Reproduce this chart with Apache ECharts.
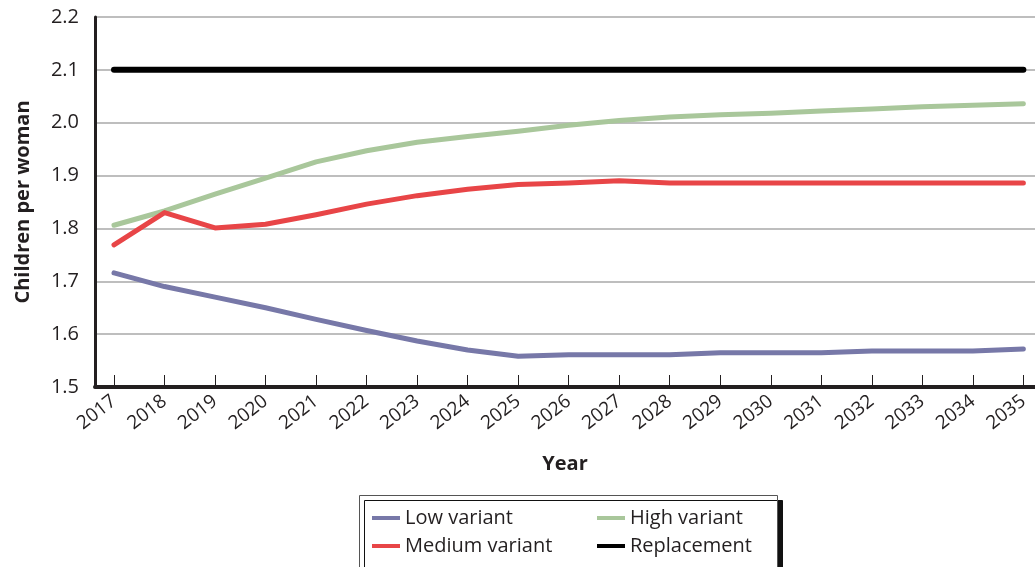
<!DOCTYPE html>
<html>
<head>
<meta charset="utf-8">
<script src="https://cdn.jsdelivr.net/npm/echarts@6/dist/echarts.min.js"></script>
<style>
  html, body { margin: 0; padding: 0; background: #fff; }
  #chart { width: 1035px; height: 567px; }
</style>
</head>
<body>
<div id="chart"></div>
<script>
const years = [2017, 2018, 2019, 2020, 2021, 2022, 2023, 2024, 2025, 2026,
  2027, 2028, 2029, 2030, 2031, 2032, 2033, 2034, 2035];
const lowVariant = [1.716, 1.690, 1.670, 1.650, 1.628, 1.607, 1.587, 1.570, 1.558, 1.561,
  1.561, 1.561, 1.565, 1.565, 1.565, 1.568, 1.568, 1.568, 1.572];
const mediumVariant = [1.769, 1.830, 1.801, 1.808, 1.826, 1.846, 1.862, 1.874, 1.883, 1.886,
  1.890, 1.886, 1.886, 1.886, 1.886, 1.886, 1.886, 1.886, 1.886];
const highVariant = [1.806, 1.833, 1.865, 1.895, 1.926, 1.947, 1.963, 1.974, 1.984, 1.995,
  2.004, 2.011, 2.015, 2.018, 2.022, 2.026, 2.030, 2.033, 2.036];
const replacement = years.map(() => 2.1);

const font = '"Open Sans", "Noto Sans", sans-serif';
const ink = '#231f20';

function pairs(vals) {
  return years.map((y, i) => [y, vals[i]]);
}

function lineSeries(name, vals, color, width) {
  return {
    name: name,
    type: 'line',
    data: pairs(vals),
    symbol: 'none',
    color: color,
    lineStyle: { color: color, width: width, cap: 'round', join: 'round' },
  };
}

const chart = echarts.init(document.getElementById('chart'));
chart.setOption({
  animation: false,
  textStyle: { fontFamily: font },
  grid: { left: 95, top: 17, right: 0, bottom: 180, containLabel: false, outerBoundsMode: 'none' },
  xAxis: {
    type: 'value',
    min: 2016.624,
    max: 2035.23,
    name: 'Year',
    nameLocation: 'middle',
    nameGap: 67,
    nameTextStyle: { fontFamily: font, fontSize: 20, fontWeight: 'bold', color: ink },
    axisLine: { show: true, lineStyle: { color: ink, width: 4 } },
    axisTick: { show: true, inside: true, length: 12, customValues: years, lineStyle: { color: ink, width: 1 } },
    axisLabel: {
      customValues: years,
      rotate: 38,
      fontSize: 19,
      color: ink,
      margin: 12,
      formatter: (v) => String(v),
    },
    splitLine: { show: false },
  },
  yAxis: {
    type: 'value',
    min: 1.5,
    max: 2.2,
    interval: 0.1,
    name: 'Children per woman',
    nameLocation: 'middle',
    nameRotate: 90,
    nameGap: 62,
    nameTextStyle: { fontFamily: font, fontSize: 20, fontWeight: 'bold', color: ink },
    axisLine: { show: true, lineStyle: { color: ink, width: 3 } },
    axisTick: { show: false },
    axisLabel: {
      fontSize: 20,
      color: ink,
      margin: 16,
      formatter: (v) => v.toFixed(1),
    },
    splitLine: { show: true, lineStyle: { color: '#a8a8a8', width: 1.5 } },
  },
  legend: [{
    data: ['Low variant', 'Medium variant'],
    orient: 'vertical',
    left: 372,
    top: 507,
    padding: 0,
    itemGap: 6,
    itemWidth: 28,
    itemHeight: 4,
    icon: 'rect',
    selectedMode: false,
    textStyle: { fontFamily: font, fontSize: 20, color: ink, lineHeight: 22 },
    z: 10,
  }, {
    data: ['High variant', 'Replacement'],
    orient: 'vertical',
    left: 597,
    top: 507,
    padding: 0,
    itemGap: 6,
    itemWidth: 28,
    itemHeight: 4,
    icon: 'rect',
    selectedMode: false,
    textStyle: { fontFamily: font, fontSize: 20, color: ink, lineHeight: 22 },
    z: 10,
  }],
  graphic: [{
    type: 'rect',
    z: 1,
    shape: { x: 359.5, y: 495.5, width: 418, height: 90 },
    style: {
      fill: '#fff',
      stroke: '#555',
      lineWidth: 1,
      shadowColor: '#111',
      shadowBlur: 0,
      shadowOffsetX: 5,
      shadowOffsetY: 5,
    },
  }],
  series: [
    lineSeries('High variant', highVariant, '#a9c79b', 5),
    lineSeries('Low variant', lowVariant, '#7778a8', 5),
    lineSeries('Medium variant', mediumVariant, '#e84547', 5),
    lineSeries('Replacement', replacement, '#000000', 6),
  ],
});
</script>
</body>
</html>
